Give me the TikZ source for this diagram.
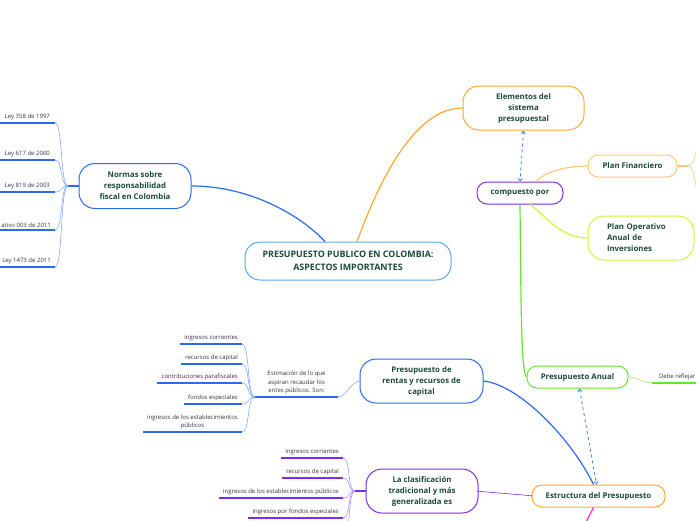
\documentclass[tikz,border=0pt]{standalone}
\usepackage{fontspec}
\setmainfont{Open Sans}
\usetikzlibrary{arrows.meta}
\definecolor{ink}{HTML}{1B4A3A}
\definecolor{leaftext}{HTML}{333333}
\definecolor{sky}{HTML}{5AA9E6}
\definecolor{royal}{HTML}{2D68F5}
\definecolor{royallt}{HTML}{86A9FF}
\definecolor{amber}{HTML}{FFA733}
\definecolor{amberlt}{HTML}{FFC878}
\definecolor{violet}{HTML}{7A2CF5}
\definecolor{violetlt}{HTML}{B090FA}
\definecolor{lime}{HTML}{D6F23A}
\definecolor{grass}{HTML}{66E52E}
\definecolor{grasslt}{HTML}{A6F07E}
\definecolor{pinkish}{HTML}{FF2BD0}
\definecolor{linkblue}{HTML}{3C86E0}

\begin{document}
\begin{tikzpicture}[x=1pt,y=-1pt,>={Straight Barb[length=2.5pt,width=4pt]},
  topic/.style={draw,line width=1pt,fill=white,text=ink,align=center,inner sep=2pt,
    font=\fontsize{7.8}{11}\selectfont\bfseries},
  pill/.style={topic,rounded corners=10pt,minimum height=22pt},
  blob/.style={topic,rounded corners=16pt,minimum height=44pt},
  leaf/.style={text=leaftext,font=\fontsize{6}{8.5}\selectfont,inner xsep=4pt,inner ysep=2.5pt,align=center},
  under/.style={line width=1.6pt},
  twig/.style={line width=.6pt,to path={.. controls +(8,0) and +(-8,0) .. (\tikztotarget)}},
  limb/.style={line width=1.2pt},
  link/.style={linkblue,dashed,line width=.8pt,<->}]
\useasboundingbox (0,0) rectangle (696,520);

% centre and main branches
\node[topic,draw=sky,rounded corners=15pt,minimum width=206pt,minimum height=38pt,
  font=\fontsize{8.9}{13.5}\selectfont\bfseries] (pp) at (348,261) {PRESUPUESTO PUBLICO EN COLOMBIA:\\ASPECTOS IMPORTANTES};
\node[blob,draw=royal,minimum width=112pt,minimum height=45pt] (normas) at (135,186) {Normas sobre\\responsabilidad\\fiscal en Colombia};
\node[blob,draw=amber,minimum width=121pt] (elem) at (523.5,108) {Elementos del\\sistema\\presupuestal};
\node[pill,draw=violet,minimum width=86pt] (comp) at (520,193) {compuesto por};
\node[pill,draw=amberlt,minimum width=89pt] (pfin) at (632.5,166) {Plan Financiero};
\node[blob,draw=lime,minimum width=106pt,text width=68pt,align=left] (poai) at (641,238) {Plan Operativo\\Anual de\\Inversiones};
\node[pill,draw=grass,minimum width=101pt] (panual) at (577.5,377) {Presupuesto Anual};
\node[blob,draw=royal,minimum width=123pt] (rentas) at (421.5,381) {Presupuesto de\\rentas y recursos de\\capital};
\node[pill,draw=amber,minimum width=133pt] (estr) at (598.5,496) {Estructura del Presupuesto};
\node[blob,draw=violet,minimum width=112pt] (clas) at (422,491) {La clasificación\\tradicional y más\\generalizada es};

\draw[royal,limb] ([xshift=-23pt]pp.north) .. controls (300,215) and (250,186) .. (normas.east);
\draw[amber,limb] ([xshift=9pt]pp.north) .. controls (385,165) and (420,108) .. (elem.west);
\draw[amberlt,limb] ([xshift=16pt]comp.north) .. controls (545,172) and (565,166) .. (pfin.west);
\draw[lime,limb] ([xshift=10pt]comp.south) .. controls (545,215) and (560,238) .. (poai.west);
\draw[grass,limb] (comp.south) .. controls (521,300) and (521,372) .. (panual.west);
\draw[royal,limb] (rentas.east) .. controls (520,385) and (572,440) .. ([xshift=-5pt]estr.north);
\draw[violet,twig] (estr.west) to (clas.east);
\coordinate (off) at (584,526);
\draw[pinkish,limb] ([xshift=-5pt]estr.south) -- (off);
\draw[link] (elem.south) -- (comp.north);
\draw[link] ([xshift=2pt]panual.south) -- ([xshift=-2pt]estr.north);

% Normas sobre responsabilidad fiscal
\coordinate (nj) at (68,186);
\node[leaf,anchor=south east,minimum width=55pt] (ley1) at (55,123) {Ley 358 de 1997};
\node[leaf,anchor=south east,minimum width=55pt] (ley2) at (55,160) {Ley 617 de 2000};
\node[leaf,anchor=south east,minimum width=55pt] (ley3) at (55,192) {Ley 819 de 2003};
\node[leaf,anchor=south east,minimum width=55pt] (ley4) at (55,230) {ativo 003 de 2011};
\node[leaf,anchor=south east,minimum width=55pt] (ley5) at (55,267) {Ley 1473 de 2011};
\draw[royal,under] (ley1.south west) -- (ley1.south east);
\draw[royal,under] (ley2.south west) -- (ley2.south east);
\draw[royal,under] (ley3.south west) -- (ley3.south east);
\draw[royal,under] (ley4.south west) -- (ley4.south east);
\draw[royal,under] (ley5.south west) -- (ley5.south east);
\draw[royallt,twig] (ley1.south east) to (nj);
\draw[royallt,twig] (ley2.south east) to (nj);
\draw[royallt,twig] (ley3.south east) to (nj);
\draw[royallt,twig] (ley4.south east) to (nj);
\draw[royallt,twig] (ley5.south east) to (nj);
\draw[royal,limb] (nj) -- (normas.west);

% Plan Financiero, cut at the edge
\coordinate (fj) at (688,166);
\coordinate (fup) at (702,146);
\coordinate (fdown) at (702,196);
\draw[amberlt,limb] (pfin.east) -- (fj);
\draw[amberlt,twig] (fj) to (fup);
\draw[amberlt,twig] (fj) to (fdown);

% Presupuesto Anual
\node[leaf,anchor=south west,minimum width=50pt] (debe) at (652,383) {Debe reflejar};
\draw[grass,under] (debe.south west) -- (debe.south east);
\draw[grasslt,twig] (panual.east) to (debe.south west);

% Presupuesto de rentas y recursos de capital
\node[leaf,anchor=south,minimum width=83pt] (estim) at (296.5,397) {Estimación de lo que\\aspiran recaudar los\\entes públicos. Son:};
\draw[royal,under] (estim.south west) -- (estim.south east);
\draw[royallt,twig] (estim.south east) to (rentas.west);
\node[leaf,anchor=south east] (ren1) at (242,344) {ingresos corrientes};
\node[leaf,anchor=south east] (ren2) at (242,364) {recursos de capital};
\node[leaf,anchor=south east] (ren3) at (242,383) {contribuciones parafiscales};
\node[leaf,anchor=south east] (ren4) at (242,404) {fondos especiales};
\node[leaf,anchor=south east] (ren5) at (242,432) {ingresos de los establecimientos\\públicos};
\draw[royal,under] (ren1.south west) -- (ren1.south east);
\draw[royal,under] (ren2.south west) -- (ren2.south east);
\draw[royal,under] (ren3.south west) -- (ren3.south east);
\draw[royal,under] (ren4.south west) -- (ren4.south east);
\draw[royal,under] (ren5.south west) -- (ren5.south east);
\draw[royallt,twig] (ren1.south east) to (estim.south west);
\draw[royallt,twig] (ren2.south east) to (estim.south west);
\draw[royallt,twig] (ren3.south east) to (estim.south west);
\draw[royallt,twig] (ren4.south east) to (estim.south west);
\draw[royallt,twig] (ren5.south east) to (estim.south west);

% La clasificacion tradicional
\coordinate (cj) at (355,491);
\coordinate (cmore) at (343,545);
\node[leaf,anchor=south east] (cla1) at (343,458) {Ingresos corrientes};
\node[leaf,anchor=south east] (cla2) at (343,478) {recursos de capital};
\node[leaf,anchor=south east] (cla3) at (343,498) {ingresos de los establecimientos públicos};
\node[leaf,anchor=south east] (cla4) at (343,518) {ingresos por fondos especiales};
\draw[violet,under] (cla1.south west) -- (cla1.south east);
\draw[violet,under] (cla2.south west) -- (cla2.south east);
\draw[violet,under] (cla3.south west) -- (cla3.south east);
\draw[violet,under] (cla4.south west) -- (cla4.south east);
\draw[violetlt,twig] (cla1.south east) to (cj);
\draw[violetlt,twig] (cla2.south east) to (cj);
\draw[violetlt,twig] (cla3.south east) to (cj);
\draw[violetlt,twig] (cla4.south east) to (cj);
\draw[violetlt,twig] (cmore) to (cj);
\draw[violet,limb] (cj) -- (clas.west);
\end{tikzpicture}
\end{document}
